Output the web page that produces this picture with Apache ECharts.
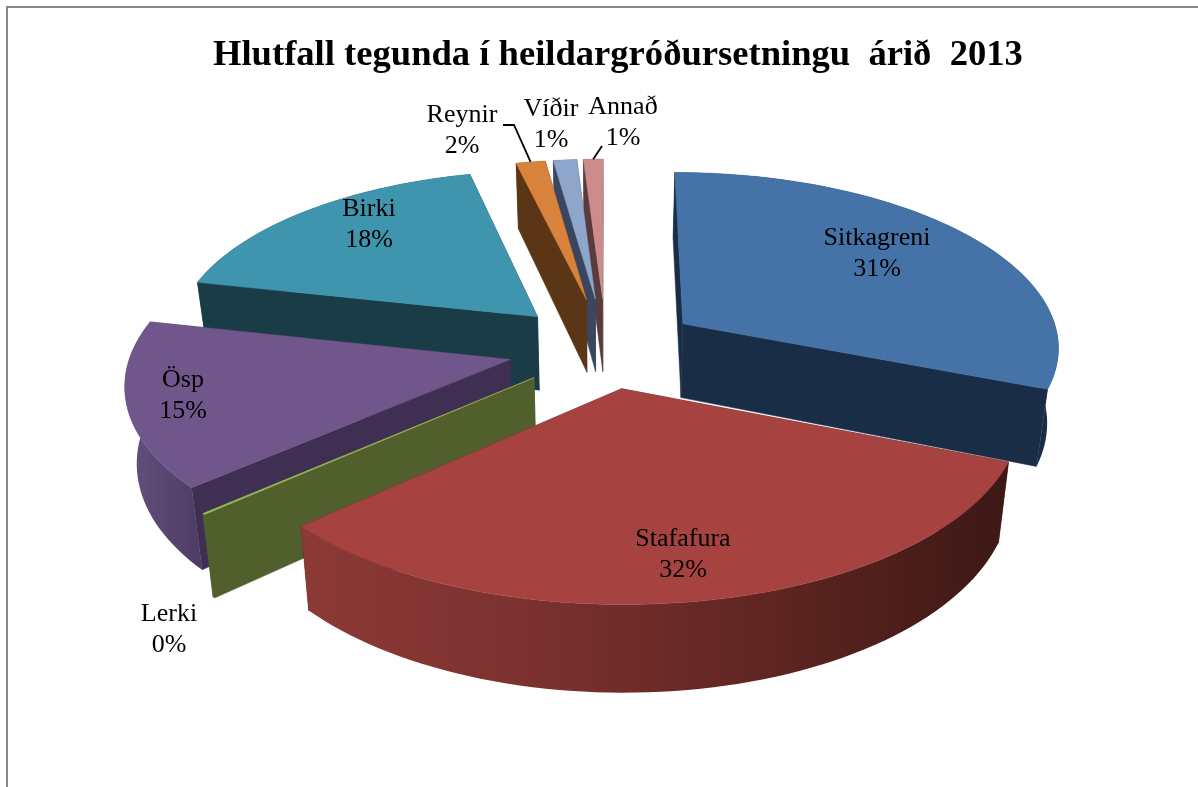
<!DOCTYPE html>
<html>
<head>
<meta charset="utf-8">
<title>Hlutfall tegunda</title>
<style>
html, body { margin: 0; padding: 0; background: #fff; }
#container { width: 1198px; height: 787px; }
</style>
<script src="https://cdn.jsdelivr.net/npm/echarts@6/dist/echarts.min.js"></script>
</head>
<body>
<div id="container"></div>
<script>
// values (percent of planting in 2013)
var categories = ['Sitkagreni', 'Stafafura', 'Lerki', 'Ösp', 'Birki', 'Reynir', 'Víðir', 'Annað'];
var values = [31.0, 32.3, 0.1, 15.0, 17.8, 1.5, 1.2, 1.0];
var titleText = 'Hlutfall tegunda í heildargróðursetningu  árið  2013';

// looks per slice
var explode = [0.25, 0.23, 0.25, 0.26, 0.26, 0.29, 0.29, 0.29];
var radius = [1, 1.02, 1.03, 1, 0.97, 0.95, 0.95, 0.95];
var topColors = ['#4572a7', '#a64340', '#9bbb59', '#71568c', '#3f95ae', '#d9823b', '#8fa6cc', '#cd8c8b'];
var cutColors = ['#1a2d47', '#5a2320', '#505f2c', '#3f3053', '#1a3c47', '#5a3616', '#3a465f', '#5a3a3b'];
var rimColors = [
    ['#1a2d47', '#1a2d47'],
    ['#8c3a36', '#7a312e', '#5f2521', '#3c1815'],
    ['#505f2c', '#505f2c'],
    ['#65517f', '#4c3c64'],
    ['#1a3c47', '#1a3c47'],
    ['#5a3616', '#5a3616'],
    ['#3a465f', '#3a465f'],
    ['#5a3a3b', '#5a3a3b']
];
// label centres on the page
var labelPos = [[877, 254], [683, 555], [169, 630], [183, 396], [369, 225], [462, 131], [551, 125], [623, 123]];
// leader line starts, the other end sits on the slice rim
var leaderFrom = {5: [[503, 125], [514, 125]], 7: [[602, 146]]};

var cx = 606, cy = 348, R = 378, tilt = 0.463, persp = 0.12, H = 75, squeeze = 0.025;

var total = 0;
for (var i = 0; i < values.length; i++) {
    total += values[i];
}
var angles = [];
var sum = 0;
for (var i = 0; i < values.length; i++) {
    var a0 = sum / total * Math.PI * 2;
    sum += values[i];
    angles.push([a0, sum / total * Math.PI * 2]);
}

function project(px, py, h) {
    var w = 1 / (1 - persp * py);
    // lower points pull in a little, the camera looks down on the pie
    return [cx + R * px * w * (1 - squeeze * h), cy + R * tilt * py * w + h * H * w];
}
function slicePoint(i, a, r, h) {
    var mid = (angles[i][0] + angles[i][1]) / 2;
    var e = explode[i];
    var rr = r * radius[i];
    return project(e * Math.sin(mid) + rr * Math.sin(a), -e * Math.cos(mid) - rr * Math.cos(a), h);
}
function rimPoints(i, h, reverse) {
    var a0 = angles[i][0], a1 = angles[i][1];
    var n = Math.max(2, Math.ceil((a1 - a0) / 0.03));
    var pts = [];
    for (var k = 0; k <= n; k++) {
        var t = reverse ? 1 - k / n : k / n;
        pts.push(slicePoint(i, a0 + (a1 - a0) * t, 1, h));
    }
    return pts;
}
function cutFace(i, a, fill) {
    return {
        type: 'polygon',
        shape: {points: [slicePoint(i, a, 0, 0), slicePoint(i, a, 1, 0), slicePoint(i, a, 1, 1), slicePoint(i, a, 0, 1)]},
        style: {fill: fill, stroke: fill, lineWidth: 0.5}
    };
}
function gradient(colors) {
    var stops = [];
    for (var k = 0; k < colors.length; k++) {
        stops.push({offset: k / (colors.length - 1), color: colors[k]});
    }
    return new echarts.graphic.LinearGradient(0, 0, 1, 0, stops);
}

function renderSlice(params, api) {
    var i = api.value(0);
    var top = rimPoints(i, 0, false);
    top.unshift(slicePoint(i, angles[i][0], 0, 0));
    return {
        type: 'group',
        children: [
            cutFace(i, angles[i][0], cutColors[i]),
            cutFace(i, angles[i][1], cutColors[i]),
            {
                type: 'polygon',
                shape: {points: rimPoints(i, 0, false).concat(rimPoints(i, 1, true))},
                style: {fill: gradient(rimColors[i])}
            },
            {
                type: 'polygon',
                shape: {points: top},
                style: {fill: topColors[i], stroke: topColors[i], lineWidth: 0.5}
            }
        ]
    };
}

function renderLabel(params, api) {
    var i = api.value(0);
    var children = [{
        type: 'text',
        x: labelPos[i][0],
        y: labelPos[i][1],
        style: {
            text: categories[i] + '\n' + Math.round(values[i] / total * 100) + '%',
            font: '26px "Liberation Serif"',
            lineHeight: 31,
            fill: '#000',
            align: 'center',
            verticalAlign: 'middle'
        }
    }];
    if (leaderFrom[i]) {
        var mid = (angles[i][0] + angles[i][1]) / 2;
        children.push({
            type: 'polyline',
            shape: {points: leaderFrom[i].concat([slicePoint(i, mid, 1, 0)])},
            style: {stroke: '#000', lineWidth: 1.8, fill: null}
        });
    }
    return {type: 'group', children: children};
}

// far slices first so the near ones cover them
var order = [];
for (var i = 0; i < values.length; i++) {
    order.push(i);
}
order.sort(function (p, q) {
    return -Math.cos((angles[p][0] + angles[p][1]) / 2) + Math.cos((angles[q][0] + angles[q][1]) / 2);
});

var myChart = echarts.init(document.getElementById('container'));
var option = {
    animation: false,
    backgroundColor: '#fff',
    title: {
        text: titleText,
        left: 208,
        top: 32,
        textStyle: {fontFamily: 'Liberation Serif', fontWeight: 'bold', fontSize: 36.6, color: '#000'}
    },
    graphic: [{
        type: 'polyline',
        shape: {points: [[7, 787], [7, 7], [1198, 7]]},
        style: {stroke: '#868686', lineWidth: 2, fill: null}
    }],
    series: [
        {type: 'custom', coordinateSystem: 'none', silent: true, renderItem: renderSlice, data: order, z: 2},
        {type: 'custom', coordinateSystem: 'none', silent: true, renderItem: renderLabel, data: order, z: 3}
    ]
};
myChart.setOption(option);
</script>
</body>
</html>
